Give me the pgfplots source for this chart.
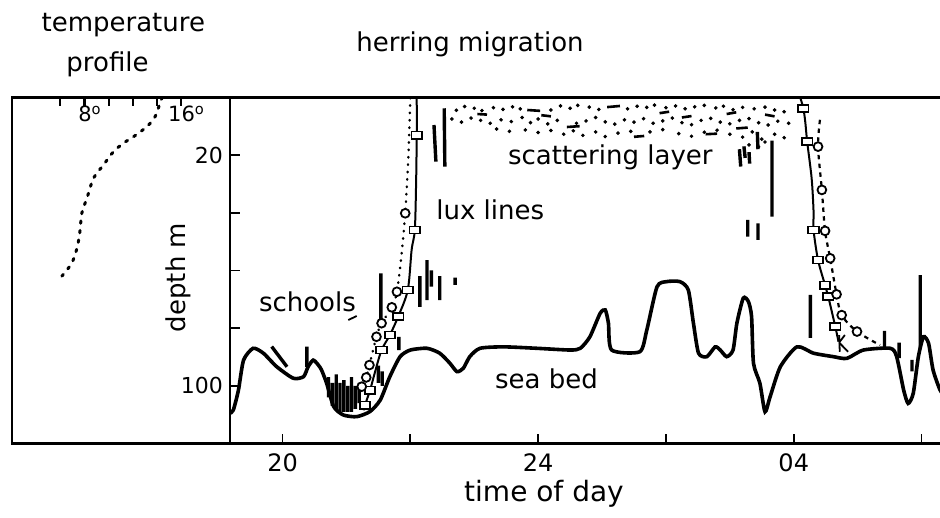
\documentclass[border=0pt]{standalone}
\usepackage{fontspec}
\setmainfont{DejaVu Sans}
\usepackage{pgfplots}
\pgfplotsset{compat=1.18}
\begin{document}
\begin{tikzpicture}
\path[use as bounding box] (0,0) rectangle (470pt,259pt);
% ---------------- left panel: temperature profile ----------------
\begin{axis}[
  at={(6pt,37.25pt)}, anchor=south west,
  scale only axis, width=109pt, height=173.1pt,
  xmin=2.0, xmax=20.02, ymin=0, ymax=120, y dir=reverse,
  xtick={6,8,10,12,14,16}, xticklabel=\empty, xtick pos=right,
  ytick=\empty, tick align=inside, major tick length=4.5pt,
  tick style={line width=1.1pt, black},
  axis line style={line width=1.4pt},
  clip=true,
]
\addplot[line width=1.5pt, line cap=round, dash pattern=on 1.2pt off 3.6pt, smooth]
  coordinates {(14.45,0)(14.32,0.9)(13.83,6.7)(13.14,10.2)(12.03,13.7)(11.21,15.9)
  (10.38,18.9)(9.55,23.5)(8.73,28.1)(8.23,34.5)(7.77,40.2)(7.63,46)(7.40,51.8)
  (6.94,57.5)(6.12,62)};
\end{axis}
% ---------------- main panel: herring migration ----------------
\begin{axis}[
  at={(115pt,37.25pt)}, anchor=south west,
  scale only axis, width=357.5pt, height=173.1pt,
  xmin=19.178, xmax=30.367, ymin=0, ymax=120, y dir=reverse,
  xtick={20,22,24,26,28,30}, xticklabels={20,,24,,04,},
  ytick={20,40,60,80,100}, yticklabels={20,,,,100},
  xtick pos=lower, ytick pos=left, tick align=inside,
  major tick length=5pt, tick style={line width=0.9pt, black},
  axis line style={line width=1.4pt},
  xticklabel style={font=\fontsize{12}{14}\selectfont, yshift=-1.5pt},
  yticklabel style={font=\fontsize{11}{13}\selectfont},
  clip=true,
]
% sea bed
\addplot[line width=1.8pt, smooth, tension=0.4] coordinates {
(19.178,109.5)(19.23,108.4)(19.31,101.5)(19.39,91.1)(19.54,87.0)(19.70,88.7)
(19.91,93.4)(20.17,97.4)(20.33,96.8)(20.40,93.4)(20.48,91.1)(20.56,92.8)
(20.61,94.5)(20.69,99.1)(20.80,107.2)(20.95,110.1)(21.16,110.7)(21.37,108.9)
(21.53,104.9)(21.68,96.8)(21.84,89.9)(22.00,87.6)(22.26,87.0)(22.46,88.7)
(22.62,92.2)(22.73,95.1)(22.83,93.9)(22.93,89.9)(23.09,87.0)(23.46,86.5)
(23.98,87.0)(24.50,87.6)(24.66,87.0)(24.81,83.0)(24.97,74.9)(25.05,73.7)
(25.10,78.3)(25.15,87.6)(25.59,88.2)(25.70,80.7)(25.86,65.7)(26.01,63.9)
(26.22,63.9)(26.35,66.8)(26.43,78.3)(26.51,88.7)(26.64,89.9)(26.77,86.5)
(26.85,87.6)(26.95,89.9)(27.05,87.6)(27.11,78.3)(27.21,69.6)(27.29,70.8)
(27.34,76.0)(27.37,92.2)(27.47,99.1)(27.55,109.0)(27.63,103.8)(27.79,93.4)
(28.05,86.5)(28.31,88.7)(28.62,89.9)(28.83,90.5)(29.09,87.6)(29.51,87.0)
(29.61,89.9)(29.72,101.5)(29.79,106.1)(29.87,102.6)(29.95,89.9)(30.03,83.0)
(30.11,85.3)(30.18,94.5)(30.29,101.5)(30.37,103.5)};
% evening lux line (solid, squares)
\addplot[line width=1pt, smooth, tension=0.5] coordinates {
(21.27,108.5)(21.29,106.7)(21.37,101.5)(21.45,95)(21.55,87.6)(21.68,82.4)
(21.81,76.0)(21.96,66.8)(22.02,52.9)(22.07,46.0)(22.09,30)(22.10,13.1)(22.10,0)};
\addplot[only marks, mark=square*, mark size=2.1pt,
  mark options={fill=white, draw=black, line width=0.9pt, xscale=1.25, yscale=0.85}]
  coordinates {(21.29,106.7)(21.37,101.5)(21.55,87.6)(21.68,82.4)(21.81,76.0)
  (21.96,66.8)(22.07,46.0)(22.10,13.1)};
% evening lux line (dotted, circles)
\addplot[line width=1.2pt, line cap=round, dash pattern=on 0.3pt off 3.4pt, smooth, tension=0.5]
  coordinates {(21.24,100.3)(21.31,97.1)(21.36,92.8)(21.47,83.0)(21.55,78.3)(21.71,72.8)
  (21.79,67.4)(21.86,55)(21.92,40.2)(21.97,20)(22.0,0)};
\addplot[only marks, mark=*, mark size=2.2pt, mark options={line width=0.9pt, fill=white, draw=black}]
  coordinates {(21.24,100.3)(21.31,97.1)(21.36,92.8)(21.47,83.0)(21.55,78.3)(21.71,72.8)
  (21.79,67.4)(21.92,40.2)};
% morning lux line (solid, squares)
\addplot[line width=1pt, smooth, tension=0.5] coordinates {
(28.10,0)(28.15,3.8)(28.18,8.5)(28.21,15.4)(28.28,28.1)(28.31,39.6)(28.31,46.0)
(28.38,56.4)(28.49,65.1)(28.54,69.1)(28.65,79.5)(28.70,84.7)};
\addplot[only marks, mark=square*, mark size=2.1pt,
  mark options={fill=white, draw=black, line width=0.9pt, xscale=1.25, yscale=0.85}]
  coordinates {(28.15,3.8)(28.21,15.4)(28.31,46.0)(28.38,56.4)(28.49,65.1)(28.54,69.1)(28.65,79.5)};
% morning lux line (dashed, circles)
\addplot[line width=1.1pt, dash pattern=on 2.2pt off 2.2pt, smooth, tension=0.5]
  coordinates {(28.41,7.8)(28.38,17.1)(28.44,32.1)(28.49,46.3)(28.57,55.8)(28.67,68.3)
  (28.75,75.5)(28.99,81.2)(29.35,85.9)};
\addplot[only marks, mark=*, mark size=2.2pt, mark options={line width=0.9pt, fill=white, draw=black}]
  coordinates {(28.38,17.1)(28.44,32.1)(28.49,46.3)(28.57,55.8)(28.67,68.3)(28.75,75.5)(28.99,81.2)};
% scattering layer: dots
\addplot[only marks, mark=*, mark size=0.7pt] coordinates {
(22.72,4.5)(22.85,3.2)(23.0,3.8)(23.12,4.6)(23.3,3.6)(23.45,4.2)(23.6,3.3)(23.72,4.0)
(24.2,4.4)(24.35,3.0)(24.5,3.8)(24.62,2.8)(24.8,3.4)(24.95,4.2)(25.4,4.0)(25.55,3.1)
(25.7,3.5)(25.82,2.7)(26.0,3.6)(26.15,3.0)(26.3,4.0)(26.45,3.3)(26.6,2.8)(26.78,3.7)
(26.9,3.1)(27.05,4.3)(27.2,3.5)(27.38,4.0)(27.55,3.4)(27.7,4.4)(27.85,5.0)
(22.65,7.5)(22.8,8.6)(22.95,7.2)(23.1,8.0)(23.25,9.0)(23.42,7.8)(23.58,8.4)(23.75,7.0)
(23.88,8.8)(24.0,7.5)(24.15,9.2)(24.3,8.0)(24.6,9.0)(24.75,8.2)(24.9,7.0)(25.05,8.5)
(25.2,9.3)(25.35,7.8)(25.5,8.6)(25.65,7.4)(25.8,9.0)(25.95,8.2)(26.1,7.2)(26.25,8.8)
(26.4,9.5)(26.55,8.0)(26.7,7.3)(26.85,8.6)(27.0,9.2)(27.15,8.0)(27.3,7.4)(27.45,8.8)
(27.6,9.6)(27.75,8.3)(27.92,9.0)
(23.35,11.0)(23.55,11.8)(23.8,11.3)(24.0,12.2)(24.2,11.5)(24.4,12.8)(24.55,11.6)
(24.7,13.2)(24.9,12.0)(25.05,13.6)(25.25,12.4)(25.45,11.8)(25.75,12.0)(25.95,11.2)
(26.2,12.6)(26.4,13.5)(26.6,12.1)(26.8,11.4)(27.0,12.8)(27.2,13.8)(27.35,12.0)
(27.5,14.5)(27.7,12.8)(27.85,14.0)(27.3,16.5)(27.45,17.2)(27.55,15.5)};
% scattering layer: short dashes
\addplot[line width=1.3pt, unbounded coords=jump] coordinates {
(23.83,4.4)(24.03,4.7)(20,nan)
(24.45,10.3)(24.65,10.0)(20,nan)
(24.05,6.2)(24.2,6.6)(20,nan)
(25.08,3.4)(25.28,3.0)(20,nan)
(25.5,13.7)(25.66,13.4)(20,nan)
(26.25,7.0)(26.4,6.5)(20,nan)
(26.62,12.8)(26.8,12.6)(20,nan)
(23.05,5.8)(23.2,6.0)(20,nan)
(25.9,5.5)(26.05,5.0)(20,nan)
(27.1,10.8)(27.28,10.5)(20,nan)
(26.95,5.8)(27.1,5.2)(20,nan)
(27.55,6.0)(27.7,6.6)};
% schools (echo traces)
\addplot[line width=1.7pt, unbounded coords=jump] coordinates {
(19.83,86.4)(20.07,93.4)(20,nan)
(20.38,86.4)(20.38,93.4)(20,nan)
(20.72,97)(20.72,104)(20,nan)
(20.78,99)(20.78,107)(20,nan)
(20.84,96)(20.84,108)(20,nan)
(20.90,99)(20.90,109)(20,nan)
(20.96,98)(20.96,109)(20,nan)
(21.02,100)(21.02,109)(20,nan)
(21.08,97)(21.08,109)(20,nan)
(21.14,100)(21.14,108)(20,nan)
(21.20,99)(21.20,106)(20,nan)
(21.50,93)(21.50,99)(20,nan)
(21.56,95)(21.56,100)(20,nan)
(21.54,61)(21.54,77.2)(20,nan)
(21.82,83)(21.82,87.6)(20,nan)
(22.15,62)(22.15,72.6)(20,nan)
(22.26,56.4)(22.26,70.3)(20,nan)
(22.33,60)(22.33,65.6)(20,nan)
(22.46,62)(22.46,70.3)(20,nan)
(22.70,62.5)(22.70,65)(20,nan)
(22.37,9.6)(22.40,22.3)(20,nan)
(22.53,3.8)(22.54,24)(20,nan)
(27.15,18)(27.17,24)(20,nan)
(27.22,17)(27.24,21)(20,nan)
(27.30,19)(27.31,23)(20,nan)
(27.43,12)(27.44,18)(20,nan)
(27.66,15)(27.66,41.4)(20,nan)
(27.28,42.5)(27.28,48.3)(20,nan)
(27.44,43.7)(27.44,49.4)(20,nan)
(28.26,68.5)(28.26,83.4)(20,nan)
(29.98,61.6)(29.98,87)(20,nan)
(29.42,81)(29.42,87)(20,nan)
(29.65,85)(29.65,90.4)(20,nan)
(29.85,91)(29.85,95)};
% thin marks (pointer under "schools", arrow at end of lux line)
\addplot[line width=0.9pt, unbounded coords=jump] coordinates {
(21.03,77.2)(21.16,75.8)(20,nan)
(28.71,82.4)(28.72,88.2)(20,nan)
(28.71,85.0)(28.85,88.2)(20,nan)
(28.71,85.0)(28.80,82.4)};
% labels
\node[font=\fontsize{13}{15}\selectfont, anchor=base] at (axis cs:20.39,74.3) {schools};
\node[font=\fontsize{13}{15}\selectfont, anchor=base] at (axis cs:23.25,42.5) {lux lines};
\node[font=\fontsize{13}{15}\selectfont, anchor=base] at (axis cs:25.13,23.3) {scattering layer};
\node[font=\fontsize{13}{15}\selectfont, anchor=base] at (axis cs:24.13,100.9) {sea bed};
\end{axis}
% ---------------- outer text ----------------
\begin{scope}[x=0.5pt,y=0.5pt]
\node[font=\fontsize{13}{15}\selectfont, anchor=base] at (123.3,486.3) {temperature};
\node[font=\fontsize{13}{15}\selectfont, anchor=base] at (107.5,446.3) {profile};
\node[font=\fontsize{13}{15}\selectfont, anchor=base] at (470,466.3) {herring migration};
\node[font=\fontsize{10.5}{12}\selectfont, anchor=base] at (90,396) {8\textsuperscript{o}};
\node[font=\fontsize{10.5}{12}\selectfont, anchor=base] at (186.5,396) {16\textsuperscript{o}};
\node[font=\fontsize{13}{15}\selectfont, rotate=90, anchor=center] at (178,240.5) {depth m};
\node[font=\fontsize{14}{16}\selectfont, anchor=base] at (544,16.3) {time of day};
\end{scope}
\end{tikzpicture}
\end{document}
